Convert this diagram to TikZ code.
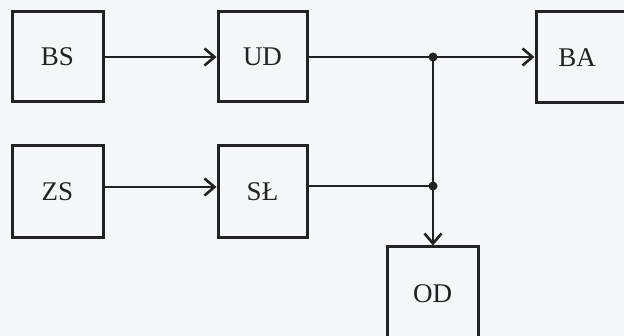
\documentclass[tikz,border=0pt]{standalone}
\usepackage{fontspec}
\setmainfont{Liberation Serif}
\usetikzlibrary{arrows.meta}
\definecolor{bg}{RGB}{244,246,250}
\definecolor{ink}{RGB}{34,34,38}
\begin{document}
\begin{tikzpicture}[x=1pt,y=-1pt,
  blk/.style={draw=ink,line width=3pt,rectangle,inner sep=0pt,font=\fontsize{27}{29}\selectfont,text=ink},
  conn/.style={draw=ink,line width=2.6pt},
  arr/.style={conn,-{Straight Barb[length=10pt,width=17pt,line width=2.6pt]}},
  jdot/.style={circle,fill=ink,inner sep=0pt,minimum size=9pt}]
\fill[bg] (0,0) rectangle (624,336);
\useasboundingbox (0,0) rectangle (624,336);
\node[blk,minimum width=91pt,minimum height=90pt] (BS) at (57.5,57) {BS};
\node[blk,minimum width=89pt,minimum height=90pt] (UD) at (262.5,57) {UD};
\node[blk,minimum width=90pt,minimum height=91pt] (BA) at (581,57.5) {\hspace*{-8pt}BA};
\node[blk,minimum width=91pt,minimum height=92pt] (ZS) at (57.5,192) {ZS};
\node[blk,minimum width=89pt,minimum height=92pt] (SL) at (262.5,192) {SŁ};
\node[blk,minimum width=91pt,minimum height=94pt] (OD) at (432.5,294) {OD};
\node[jdot] (j1) at (433,57) {};
\node[jdot] (j2) at (433,186) {};
\draw[arr] (BS.east) -- (UD.west);
\draw[arr] (ZS.east |- 0,187) -- (SL.west |- 0,187);
\draw[conn] (UD.east) -- (j1.center);
\draw[arr] (j1.center) -- (BA.west |- j1);
\draw[conn] (SL.east |- j2) -- (j2.center);
\draw[arr] (j1.center) -- (OD.north -| j1);
\end{tikzpicture}
\end{document}
